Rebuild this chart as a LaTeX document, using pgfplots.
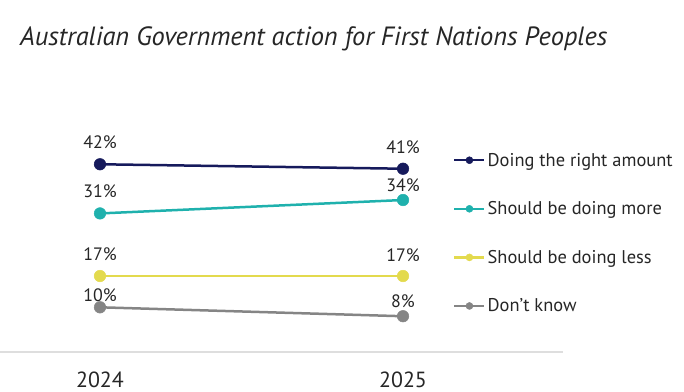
\documentclass[border=0pt]{standalone}
\usepackage{fontspec}
\setmainfont{PT Sans}
\usepackage{pgfplots}
\usepackage{pgfplotstable}
\pgfplotsset{compat=1.18}
\definecolor{cNavy}{HTML}{161A5C}
\definecolor{cTeal}{HTML}{1FB1AD}
\definecolor{cYellow}{HTML}{E3DA4E}
\definecolor{cGray}{HTML}{858585}
\pgfplotstableread{
x y off
0 42 22
1 41 22
}\tRight
\pgfplotstableread{
x y off
0 31 22
1 34 15
}\tMore
\pgfplotstableread{
x y off
0 17 22
1 17 21
}\tLess
\pgfplotstableread{
x y off
0 10 12
1 8 15
}\tDK
\begin{document}
\begin{tikzpicture}[x=1bp,y=1bp]
\useasboundingbox (0bp,0bp) rectangle (684bp,392bp);
\node[anchor=west, inner sep=0, font=\fontsize{26.5}{30}\selectfont\itshape, text=black!85] at (20bp,353bp) {Australian Government action for First Nations Peoples};
\begin{axis}[
  at={(0bp,40bp)}, anchor=south west, scale only axis,
  width=563bp, height=223.5bp,
  xmin=-0.33, xmax=1.528, ymin=0, ymax=50,
  axis x line*=bottom, axis y line=none,
  axis line style={draw=black!13, line width=1.5bp, -},
  xtick={0,1}, xticklabels={2024,2025},
  major tick length=0,
  /pgf/number format/assume math mode=true,
  xticklabel style={font=\fontsize{22}{24}\selectfont, text=black!85, yshift=-16bp},
  clip=false,
  every axis plot/.append style={line width=2.5bp, mark=*, mark size=5.8bp, mark options={line width=0.5bp}},
  visualization depends on={\thisrow{off}\as\off},
  nodes near coords={\pgfmathprintnumber{\pgfplotspointmeta}\%},
  nodes near coords style={anchor=center, yshift=\off, font=\fontsize{18}{20}\selectfont, text=black!85},
  legend style={at={(0.8046,0.532)}, anchor=west, draw=none, fill=none,
    font=\fontsize{18.5}{20}\selectfont, text=black!85, row sep=30bp, inner sep=0pt,
    cells={anchor=west}},
  legend image code/.code={
    \draw[mark repeat=2,mark phase=2,#1,mark size=3.5bp] plot coordinates {(0bp,0bp) (15bp,0bp) (30bp,0bp)};
  },
]
\addplot[cNavy] table[x=x,y=y] {\tRight};
\addlegendentry{Doing the right amount}
\addplot[cTeal] table[x=x,y=y] {\tMore};
\addlegendentry{Should be doing more}
\addplot[cYellow] table[x=x,y=y] {\tLess};
\addlegendentry{Should be doing less}
\addplot[cGray] table[x=x,y=y] {\tDK};
\addlegendentry{Don't know}
\end{axis}
\end{tikzpicture}
\end{document}
